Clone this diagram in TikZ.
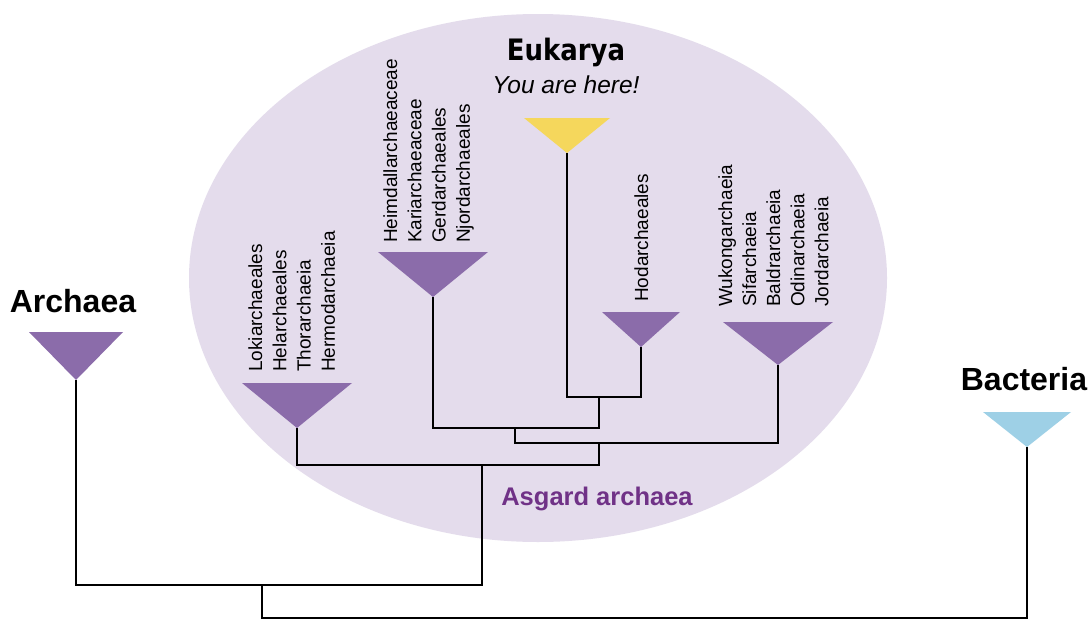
\documentclass[tikz,border=0pt]{standalone}
\usepackage{fontspec}
\setmainfont{Liberation Sans}
\newfontfamily\headfont{DejaVu Sans}
\definecolor{ellfill}{RGB}{228,220,236}
\definecolor{cladecol}{RGB}{139,108,170}
\definecolor{eukcol}{RGB}{245,215,92}
\definecolor{bactcol}{RGB}{158,208,230}
\definecolor{asgcol}{RGB}{112,50,135}
\newcommand\clade[6]{%
  \coordinate (#1) at (#2,#3);
  \fill[#6] (#1) -- ++(-#4,-#5) -- ++(2*#4,0) -- cycle;}
\begin{document}
\begin{tikzpicture}[x=1pt,y=-1pt,
  branch/.style={draw=black,line width=2.5pt},
  lab/.style={rotate=90,anchor=base west,inner sep=0pt,font=\fontsize{19}{20}\selectfont},
  head/.style={anchor=base,inner sep=0pt,font=\bfseries\fontsize{32}{34}\selectfont}]
\useasboundingbox (0,0) rectangle (1092,621);
\fill[white] (0,0) rectangle (1092,621);
% Asgard ellipse
\fill[ellfill] (538,278) ellipse [x radius=349, y radius=264];
% tips
\coordinate (archT) at (76,380);
\coordinate (lokiT) at (297,428);
\coordinate (heimT) at (433,297);
\coordinate (eukT) at (567,153);
\coordinate (hodT) at (641,347);
\coordinate (wukT) at (778,365);
\coordinate (bactT) at (1027,447);
% junctions
\coordinate (j1) at (599,397);
\coordinate (j2) at (515,428);
\coordinate (j3) at (599,443);
\coordinate (j4) at (482,465);
\coordinate (j5) at (262,585);
\coordinate (root) at (645,618);
% branches
\draw[branch] (eukT) |- (j1) -| (hodT);
\draw[branch] (heimT) |- (j2) -| (j1);
\draw[branch] (j2) |- (j3) -| (wukT);
\draw[branch] (lokiT) |- (j4) -| (j3);
\draw[branch] (archT) |- (j5) -| (j4);
\draw[branch] (j5) |- (root) -| (bactT);
% triangles
\clade{archTri}{76}{380}{47}{48}{cladecol}
\clade{lokiTri}{297}{428}{55}{45}{cladecol}
\clade{heimTri}{433}{297}{55}{45}{cladecol}
\clade{eukTri}{567}{153}{43}{35}{eukcol}
\clade{hodTri}{641}{347}{39}{35}{cladecol}
\clade{wukTri}{778}{365}{55}{43}{cladecol}
\clade{bactTri}{1027}{447}{44}{35}{bactcol}
% headings
\node[anchor=base,inner sep=0pt,font=\headfont\bfseries\fontsize{29.5}{32}\selectfont] (eukarya) at (566,60) {\scalebox{0.88}[1]{Eukarya}};
\node[anchor=base,inner sep=0pt,font=\itshape\fontsize{24.5}{26}\selectfont] (here) at (566,93) {You are here!};
\node[head] (archaea) at (73,312) {Archaea};
\node[head] (bacteria) at (1024,390) {Bacteria};
\node[anchor=base,inner sep=0pt,text=asgcol,font=\bfseries\fontsize{25.5}{28}\selectfont] (asgard) at (597,505) {Asgard archaea};
% clade labels
\foreach \t [count=\i] in {Lokiarchaeales,Helarchaeales,Thorarchaeia,Hermodarchaeia}
  \node[lab] (loki\i) at ({262+24.3*(\i-1)},372) {\t};
\foreach \t [count=\i] in {Heimdallarchaeaceae,Kariarchaeaceae,Gerdarchaeales,Njordarchaeales}
  \node[lab] (heim\i) at ({397+24.3*(\i-1)},243) {\t};
\node[lab] (hod1) at (648,302) {Hodarchaeales};
\foreach \t [count=\i] in {Wukongarchaeia,Sifarchaeia,Baldrarchaeia,Odinarchaeia,Jordarchaeia}
  \node[lab] (wuk\i) at ({732+24.1*(\i-1)},307) {\t};
\end{tikzpicture}
\end{document}
